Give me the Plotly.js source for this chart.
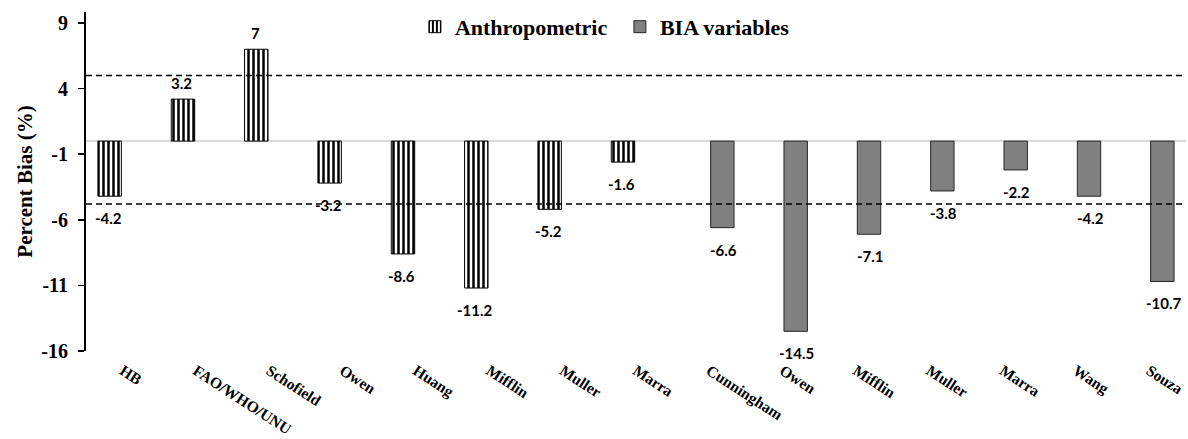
<!DOCTYPE html>
<html>
<head>
<meta charset="utf-8">
<script src="https://cdn.plot.ly/plotly-3.0.1.min.js"></script>
<style>html,body{margin:0;padding:0;background:#fff;}#chart{width:1188px;height:439px;}</style>
</head>
<body>
<div id="chart"></div>
<script>
// Category tick labels (positions 0..14)
const categories = ["HB","FAO/WHO/UNU","Schofield","Owen","Huang","Mifflin","Muller","Marra",
                    "Cunningham","Owen","Mifflin","Muller","Marra","Wang","Souza"];
// Series values (null = no bar in that category)
const anthropometric = [-4.2, 3.2, 7, -3.2, -8.6, -11.2, -5.2, -1.6, null, null, null, null, null, null, null];
const biaVariables   = [null, null, null, null, null, null, null, null, -6.6, -14.5, -7.1, -3.8, -2.2, -4.2, -10.7];
const seriesNames = ["Anthropometric", "BIA variables"];
// Reference (limit) lines
const limitLines = [5, -4.8];
const yTicks = [9, 4, -1, -6, -11, -16];

const SERIF = 'Liberation Serif, Times New Roman, serif';
const SANS = 'Lato, Open Sans, sans-serif';

const xIdx = categories.map((_, i) => i);

const traces = [
  {
    type: 'bar', name: seriesNames[0], x: xIdx, y: anthropometric,
    marker: {color: '#ffffff', line: {color: '#000000', width: 1},
             pattern: {shape: '|', fgcolor: '#000000', bgcolor: '#ffffff', fgopacity: 1, size: 5, solidity: 0.5, fillmode: 'replace'}},
    hoverinfo: 'skip'
  },
  {
    type: 'bar', name: seriesNames[1], x: xIdx, y: biaVariables,
    marker: {color: '#808080', line: {color: '#262626', width: 1}},
    hoverinfo: 'skip'
  }
];

// Value labels placed via annotations anchored to the data values
const annotations = [];
const offsets = [-0.195, 0.195];
[anthropometric, biaVariables].forEach((arr, s) => {
  arr.forEach((v, i) => {
    if (v === null) return;
    annotations.push({
      x: i + offsets[s], y: v, xref: 'x', yref: 'y',
      text: '<b>' + String(v) + '</b>', showarrow: false,
      yanchor: v < 0 ? 'top' : 'bottom',
      yshift: v < 0 ? -11 : 5,
      font: {family: SANS, size: 15, color: '#000'}
    });
  });
});

const shapes = limitLines.map(v => ({
  type: 'line', xref: 'paper', yref: 'y', x0: 0, x1: 1, y0: v, y1: v,
  line: {color: '#000', width: 1.5, dash: '6px,4px'}, layer: 'above'
}));

const layout = {
  width: 1188, height: 439,
  margin: {l: 86, r: 2, t: 12, b: 88, autoexpand: false},
  paper_bgcolor: '#fff', plot_bgcolor: '#fff',
  barmode: 'group', bargap: 0.29, bargroupgap: 0.1,
  showlegend: true,
  legend: {orientation: 'h', x: 0.299, xanchor: 'left', y: 1.018, yanchor: 'top',
           font: {family: SERIF, size: 22, color: '#000', weight: 700},
           entrywidth: 160, entrywidthmode: 'pixels', bgcolor: 'rgba(0,0,0,0)'},
  xaxis: {
    range: [-0.5, 14.5], tickmode: 'array', tickvals: xIdx, ticktext: categories.map(c => '<b>' + c + '</b>'),
    tickangle: 33, showline: false, showgrid: false, zeroline: false, ticks: '',
    ticklabelstandoff: 7, automargin: false,
    tickfont: {family: SERIF, size: 15.5, color: '#000', weight: 700},
    fixedrange: true
  },
  yaxis: {
    range: [-16, 9.84], tickmode: 'array', tickvals: yTicks, ticktext: yTicks.map(t => '<b>' + t + '</b>'),
    showline: true, linecolor: '#000', linewidth: 2,
    ticks: 'outside', ticklen: 6, tickwidth: 1.5, tickcolor: '#000',
    ticklabelstandoff: 6, automargin: false,
    showgrid: false, zeroline: true, zerolinecolor: '#d9d9d9', zerolinewidth: 2,
    tickfont: {family: SERIF, size: 20, color: '#000', weight: 700},
    title: {text: '<b>Percent Bias (%)</b>', standoff: 3,
            font: {family: SERIF, size: 21, color: '#000', weight: 700}},
    fixedrange: true
  },
  shapes: shapes,
  annotations: annotations
};

Plotly.newPlot('chart', traces, layout, {displayModeBar: false, staticPlot: true});
</script>
</body>
</html>
